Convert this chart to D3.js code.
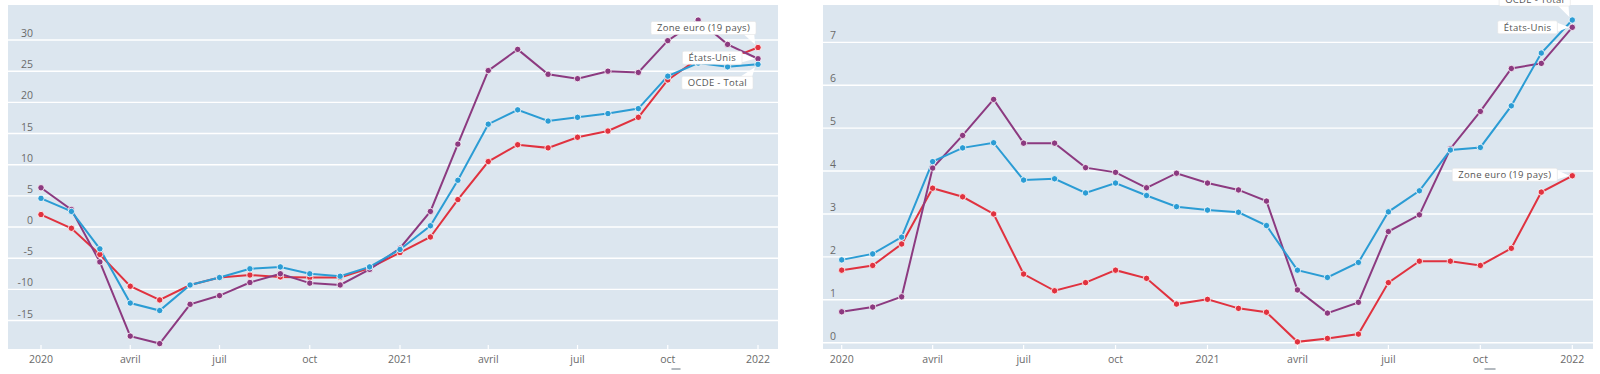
<!DOCTYPE html>
<html>
<head>
<meta charset="utf-8">
<script src="https://cdn.jsdelivr.net/npm/d3@7"></script>
<style>
  body { margin: 0; background: #fff; }
  svg { display: block; }
  text { font-family: "Open Sans", sans-serif; }
</style>
</head>
<body>
<svg id="chart" width="1600" height="374"></svg>
<script>
// months Jan 2020 .. Jan 2022
const months = d3.timeMonth.range(new Date(2020, 0, 1), new Date(2022, 0, 2));

const seriesNames = ["Zone euro (19 pays)", "États-Unis", "OCDE - Total"];
const seriesColors = ["#e0323f", "#8c3a80", "#2b9cd4"];

// left panel
const leftEuro = [2.0, -0.2, -4.4, -9.5, -11.7, -9.3, -8.1, -7.7, -8.0, -8.1, -8.1, -6.6, -4.1,
  -1.6, 4.4, 10.5, 13.2, 12.7, 14.4, 15.4, 17.6, 23.6, 27.0, 26.9, 28.8];
const leftUS = [6.3, 2.8, -5.6, -17.5, -18.7, -12.4, -11.0, -8.9, -7.5, -9.0, -9.3, -6.8, -3.4,
  2.5, 13.3, 25.1, 28.5, 24.5, 23.8, 25.0, 24.8, 29.9, 33.2, 29.3, 27.0];
const leftOECD = [4.6, 2.5, -3.5, -12.2, -13.4, -9.3, -8.1, -6.7, -6.4, -7.5, -7.9, -6.4, -3.6,
  0.2, 7.5, 16.5, 18.8, 17.0, 17.6, 18.2, 19.0, 24.2, 26.3, 25.7, 26.1];
const leftTicks = [-15, -10, -5, 0, 5, 10, 15, 20, 25, 30];

// right panel
const rightEuro = [1.69, 1.80, 2.30, 3.60, 3.40, 3.00, 1.60, 1.21, 1.40, 1.69, 1.50, 0.90, 1.01,
  0.80, 0.71, 0.02, 0.10, 0.20, 1.40, 1.90, 1.90, 1.80, 2.20, 3.51, 3.89];
const rightUS = [0.72, 0.83, 1.07, 4.07, 4.83, 5.67, 4.65, 4.65, 4.08, 3.97, 3.61, 3.95, 3.72,
  3.56, 3.30, 1.23, 0.69, 0.94, 2.59, 2.98, 4.52, 5.39, 6.39, 6.51, 7.35];
const rightOECD = [1.93, 2.07, 2.46, 4.22, 4.54, 4.66, 3.79, 3.82, 3.49, 3.72, 3.43, 3.17, 3.09,
  3.04, 2.73, 1.69, 1.52, 1.87, 3.05, 3.54, 4.49, 4.55, 5.52, 6.75, 7.52];
const rightTicks = [0, 1, 2, 3, 4, 5, 6, 7];

const xTickDates = [new Date(2020, 0, 1), new Date(2020, 3, 1), new Date(2020, 6, 1), new Date(2020, 9, 1),
  new Date(2021, 0, 1), new Date(2021, 3, 1), new Date(2021, 6, 1), new Date(2021, 9, 1), new Date(2022, 0, 1)];
const monthNames = ["janv", "févr", "mars", "avril", "mai", "juin", "juil", "août", "sept", "oct", "nov", "déc"];

function tickLabel(d) {
  return d.getMonth() === 0 ? String(d.getFullYear()) : monthNames[d.getMonth()];
}

const svg = d3.select("#chart");

function drawPanel(cfg) {
  const g = svg.append("g");
  const x = d3.scaleTime().domain([months[0], months[months.length - 1]]).range(cfg.xRange);
  const y = d3.scaleLinear().domain(cfg.yDomain).range([cfg.bottom, cfg.top]);

  g.append("rect")
    .attr("x", cfg.left).attr("y", cfg.top)
    .attr("width", cfg.right - cfg.left).attr("height", cfg.bottom - cfg.top)
    .attr("fill", "#dce6ef");

  // gridlines + y labels
  g.selectAll(".grid").data(cfg.ticks).enter().append("line")
    .attr("x1", cfg.left).attr("x2", cfg.right)
    .attr("y1", d => y(d)).attr("y2", d => y(d))
    .attr("stroke", "#fff").attr("stroke-width", 1.4);

  g.selectAll(".ylab").data(cfg.ticks).enter().append("text")
    .attr("x", cfg.left + cfg.labelX).attr("y", d => y(d) - 3)
    .attr("text-anchor", "end")
    .attr("font-size", 10.5).attr("fill", "#6a6a6a")
    .text(d => d);

  // x ticks
  g.selectAll(".xt").data(xTickDates).enter().append("line")
    .attr("x1", d => x(d)).attr("x2", d => x(d))
    .attr("y1", cfg.bottom - 4).attr("y2", cfg.bottom)
    .attr("stroke", "#fff").attr("stroke-width", 1.2);

  g.selectAll(".xlab").data(xTickDates).enter().append("text")
    .attr("x", d => x(d)).attr("y", cfg.bottom + 14)
    .attr("text-anchor", "middle")
    .attr("font-size", 10.5).attr("fill", "#6a6a6a")
    .text(tickLabel);

  const line = d3.line().x((d, i) => x(months[i])).y(d => y(d));

  cfg.series.forEach((vals, k) => {
    g.append("path").datum(vals)
      .attr("d", line)
      .attr("fill", "none")
      .attr("stroke", seriesColors[k])
      .attr("stroke-width", 2);
  });
  cfg.series.forEach((vals, k) => {
    g.selectAll(null).data(vals).enter().append("circle")
      .attr("cx", (d, i) => x(months[i])).attr("cy", d => y(d))
      .attr("r", 3.2)
      .attr("fill", seriesColors[k])
      .attr("stroke", "#fff").attr("stroke-width", 0.8);
  });

  // end labels
  const lastDate = months[months.length - 1];
  cfg.labels.forEach(lab => {
    const k = lab.series;
    const px = x(lastDate), py = y(cfg.series[k][cfg.series[k].length - 1]);
    const lg = g.append("g");
    const t = lg.append("text")
      .attr("font-size", 9.5).attr("fill", "#555")
      .attr("letter-spacing", 0.3)
      .text(seriesNames[k]);
    const w = t.node().getComputedTextLength() + 12;
    const h = 13;
    const bx = px + lab.dx - w, by = py + lab.dy - h / 2;
    t.attr("x", bx + 6).attr("y", by + 9.8);
    // pointer
    const tipX = px - 3, tipY = py + (lab.dy > 4 ? 3 : lab.dy < -4 ? -3 : 0);
    let base;
    if (lab.dy < -4) base = [[bx + w - 12, by + h], [bx + w - 2, by + h - 4]];
    else if (lab.dy > 4) base = [[bx + w - 12, by], [bx + w - 2, by + 4]];
    else base = [[bx + w, by + 2], [bx + w, by + h - 2]];
    lg.insert("path", "text")
      .attr("d", `M${base[0][0]},${base[0][1]}L${tipX},${tipY}L${base[1][0]},${base[1][1]}Z`)
      .attr("fill", "#fff");
    lg.insert("rect", "text")
      .attr("x", bx).attr("y", by).attr("width", w).attr("height", h)
      .attr("rx", 1.5)
      .attr("fill", "#fff")
      .attr("stroke", "#e4e4e4").attr("stroke-width", 0.6);
  });

  // cropped legend remnant under the axis
  g.append("line")
    .attr("x1", cfg.legendX).attr("x2", cfg.legendX + cfg.legendW)
    .attr("y1", 369).attr("y2", 369)
    .attr("stroke", "#9aa3ab").attr("stroke-width", 1.5).attr("stroke-linecap", "round");
}

drawPanel({
  left: 8, right: 778, top: 5, bottom: 349,
  xRange: [41, 758],
  yDomain: [-19.57, 35.62],
  ticks: leftTicks,
  labelX: 25,
  series: [leftEuro, leftUS, leftOECD],
  labels: [
    { series: 0, dx: -2, dy: -19.5 },
    { series: 1, dx: -16, dy: -1 },
    { series: 2, dx: -5, dy: 18.5 }
  ],
  legendX: 672, legendW: 8
});

drawPanel({
  left: 823, right: 1593, top: 5, bottom: 349,
  xRange: [841.7, 1572.3],
  yDomain: [-0.147, 7.87],
  ticks: rightTicks,
  labelX: 13,
  series: [rightEuro, rightUS, rightOECD],
  labels: [
    { series: 0, dx: -15, dy: -1 },
    { series: 1, dx: -15, dy: 0 },
    { series: 2, dx: -2, dy: -20.5 }
  ],
  legendX: 1485, legendW: 10
});
</script>
</body>
</html>
